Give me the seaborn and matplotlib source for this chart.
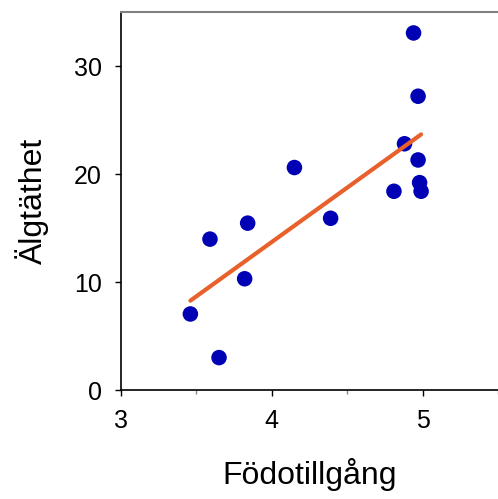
import matplotlib
matplotlib.use("Agg")
import matplotlib.pyplot as plt
import seaborn as sns
import pandas as pd
from matplotlib.ticker import MultipleLocator

fodotillgang = [3.46, 3.65, 3.59, 3.82, 3.84, 4.15, 4.39, 4.81, 4.88, 4.94, 4.97, 4.97, 4.98, 4.99]
algtathet = [7.04, 3.0, 13.97, 10.3, 15.45, 20.6, 15.9, 18.4, 22.8, 33.06, 27.2, 21.3, 19.2, 18.4]
x_ticks = [3, 4, 5]
y_ticks = [0, 10, 20, 30]

df = pd.DataFrame({"Födotillgång": fodotillgang, "Älgtäthet": algtathet})

sns.set_style("white")
plt.rcParams['font.family'] = ['Liberation Sans', 'DejaVu Sans']
plt.rcParams['text.color'] = 'black'
plt.rcParams['axes.labelcolor'] = 'black'
plt.rcParams['xtick.color'] = 'black'
plt.rcParams['ytick.color'] = 'black'

fig = plt.figure(figsize=(4.98, 4.99), dpi=100)
ax = fig.add_axes([121/498, 1 - 390/499, 1 - 121/498, (390 - 12) / 499])

sns.scatterplot(data=df, x="Födotillgång", y="Älgtäthet", ax=ax, color="#0000B4",
                s=125, edgecolor="none", zorder=2)
sns.regplot(data=df, x="Födotillgång", y="Älgtäthet", ax=ax, ci=None, scatter=False,
            line_kws=dict(color="#E8602C", lw=3.0, solid_capstyle="round", zorder=3))

ax.set_xlim(3, 5.5)
ax.set_ylim(0, 35)
ax.set_xticks(x_ticks)
ax.set_yticks(y_ticks)
ax.xaxis.set_minor_locator(MultipleLocator(0.5))
ax.tick_params(axis="both", which="major", direction="out", length=4, width=1,
               color="black", labelcolor="black", labelsize=18, pad=10,
               bottom=True, left=True)
ax.tick_params(axis="x", which="minor", direction="out", length=3, width=1,
               color="#888888", bottom=True)
for side in ["left", "bottom"]:
    ax.spines[side].set_color("black")
    ax.spines[side].set_linewidth(1.2)
ax.spines["top"].set_color("#808080")
ax.spines["top"].set_linewidth(1.5)
ax.spines["right"].set_visible(False)

ax.set_xlabel("Födotillgång", fontsize=23, labelpad=18, color="black")
ax.set_ylabel("Älgtäthet", fontsize=23, labelpad=18, color="black")

fig.savefig("out.png", dpi=100)
